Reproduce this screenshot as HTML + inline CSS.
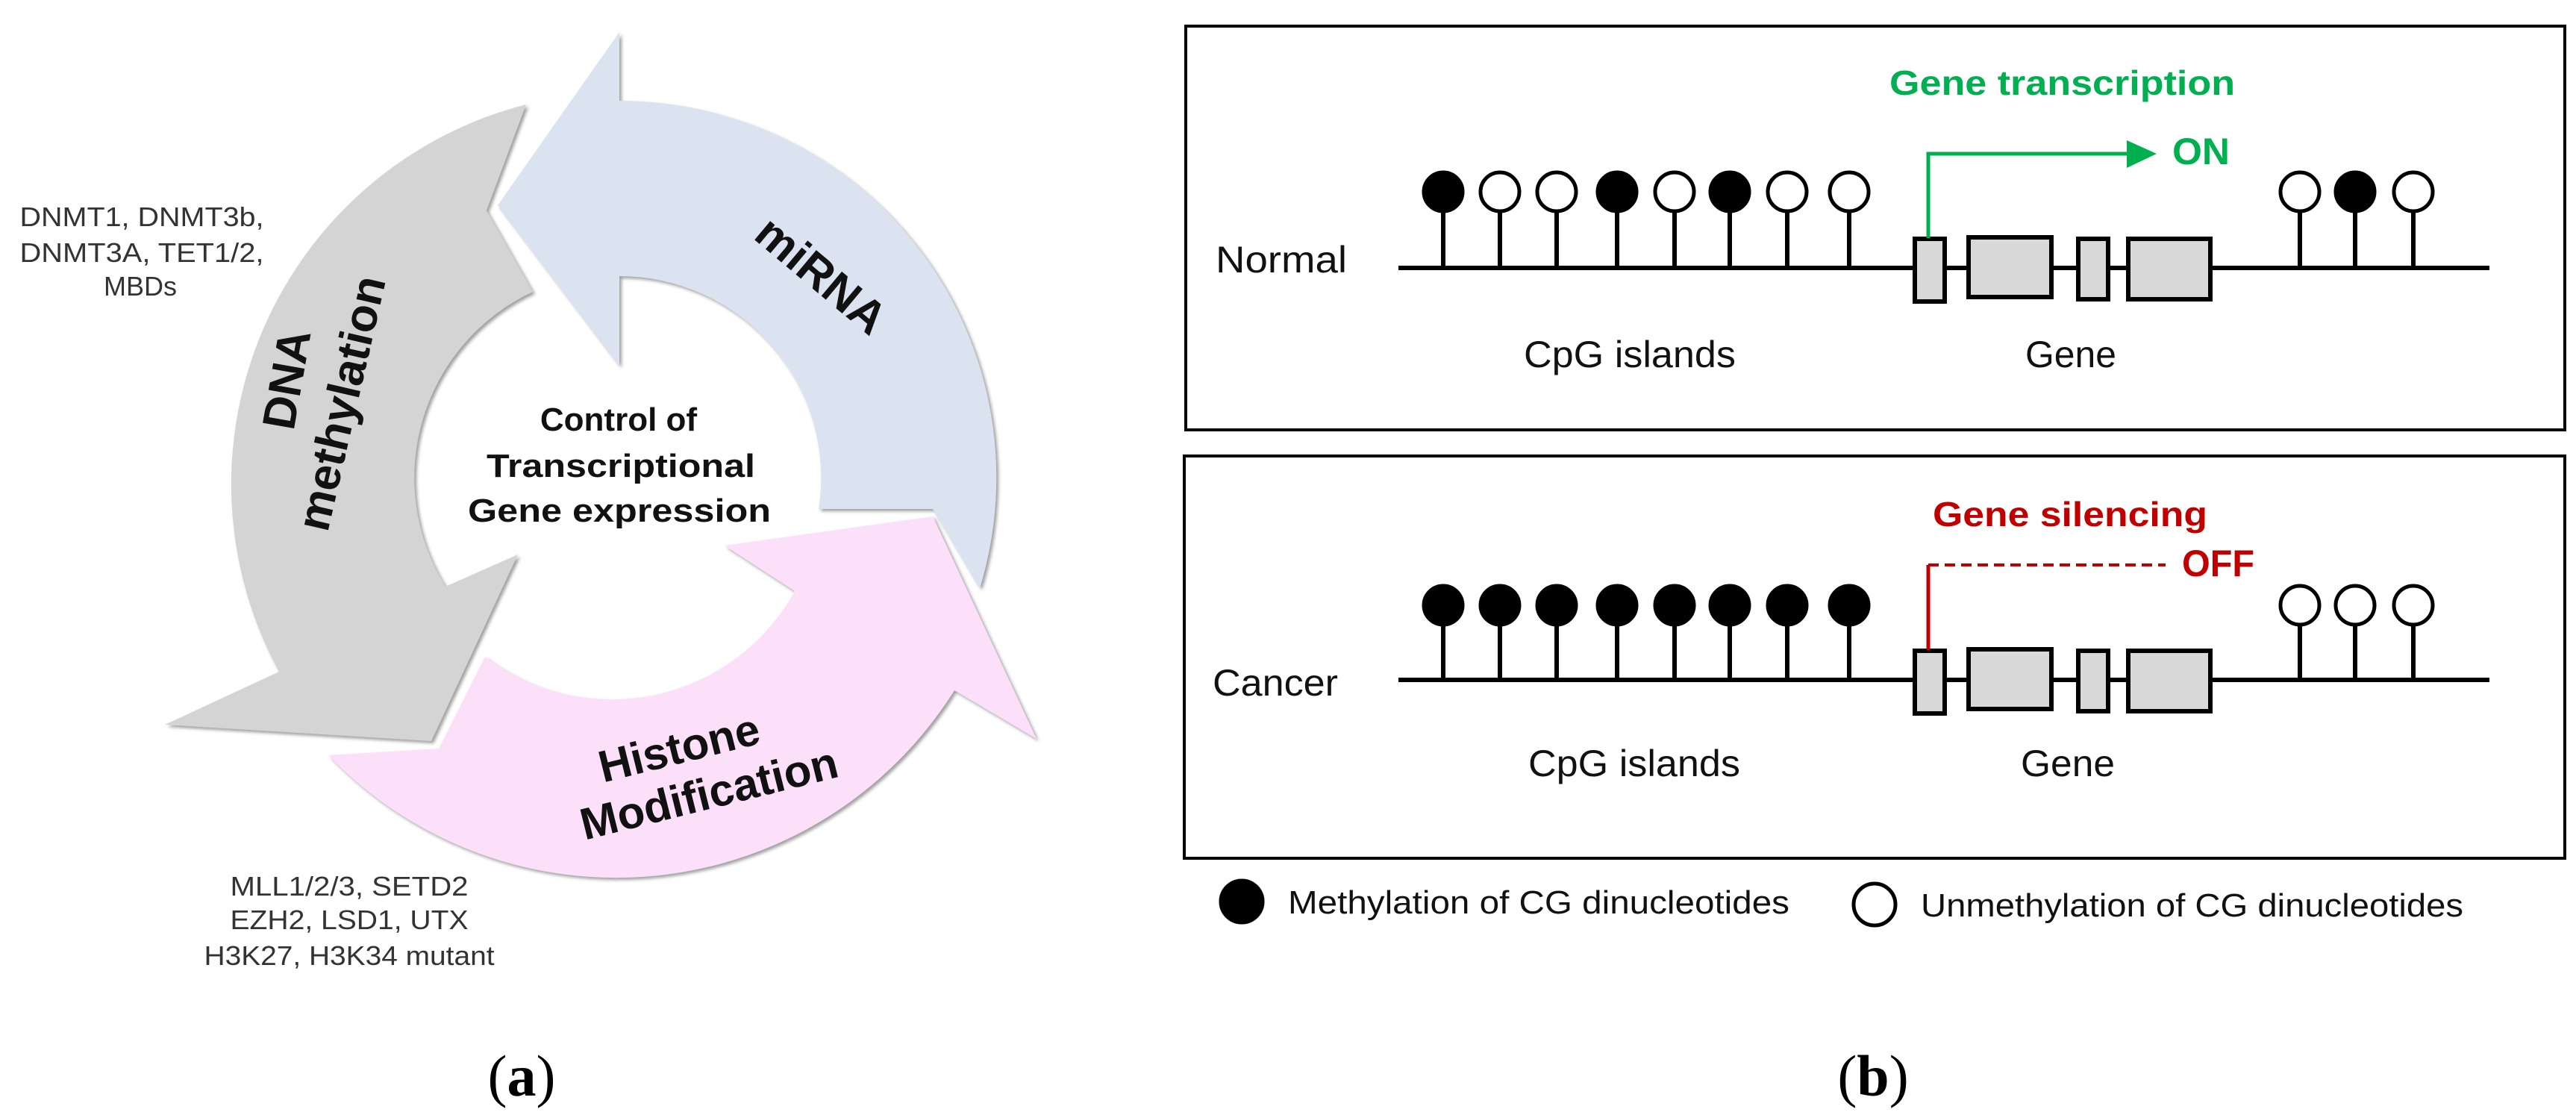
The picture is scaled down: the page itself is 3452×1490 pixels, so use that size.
<!DOCTYPE html>
<html><head><meta charset="utf-8"><style>
html,body{margin:0;padding:0;background:#fff;}
svg{display:block;}
</style></head><body>
<svg width="3452" height="1490" viewBox="0 0 3452 1490" xmlns="http://www.w3.org/2000/svg">
<defs>
<filter id="sh" x="-10%" y="-10%" width="120%" height="120%">
<feDropShadow dx="3" dy="3" stdDeviation="2" flood-color="#777" flood-opacity="0.7"/>
</filter>
</defs>
<!-- Panel a arrows -->
<path filter="url(#sh)" fill="#dbe3f1" d="M 1313 788 A 505 505 0 0 0 830 135 L 830 43 L 667 275 L 830 490 L 830 370 A 270 270 0 0 1 1097 682 L 1250 682 Z"/>
<path filter="url(#sh)" fill="#d4d4d4" d="M 705 140 A 525 525 0 0 0 374 900 L 221 971 L 578 993 L 694 743 L 597 786 A 275 275 0 0 1 714 391 L 652 282 Z"/>
<path filter="url(#sh)" fill="#fce0fa" d="M 440 1012 A 535 535 0 0 0 1279 925 L 1389 990 L 1250 692 L 971 731 L 1065 792 A 280 280 0 0 1 650 880 L 588 1003 Z"/>
<g font-family="Liberation Sans, Arial, sans-serif" font-weight="bold" fill="#111">
<text transform="translate(1087,385) rotate(40)" text-anchor="middle" font-size="62">miRNA</text>
<text transform="translate(405,512) rotate(-80)" text-anchor="middle" font-size="62">DNA</text>
<text transform="translate(478,545) rotate(-77)" text-anchor="middle" font-size="62">methylation</text>
<text transform="translate(915,1022) rotate(-14)" text-anchor="middle" font-size="60">Histone</text>
<text transform="translate(955,1083) rotate(-14)" text-anchor="middle" font-size="60">Modification</text>
<text x="829" y="577" text-anchor="middle" font-size="44">Control of</text>
<text x="832" y="639" text-anchor="middle" font-size="44" textLength="360" lengthAdjust="spacingAndGlyphs">Transcriptional</text>
<text x="830" y="699" text-anchor="middle" font-size="44" textLength="406" lengthAdjust="spacingAndGlyphs">Gene expression</text>
</g>
<g font-family="Liberation Sans, Arial, sans-serif" fill="#333" font-size="36" text-anchor="middle">
<text x="190" y="303" textLength="327" lengthAdjust="spacingAndGlyphs">DNMT1, DNMT3b,</text>
<text x="190" y="351" textLength="327" lengthAdjust="spacingAndGlyphs">DNMT3A, TET1/2,</text>
<text x="188" y="396">MBDs</text>
<text x="468" y="1200" textLength="319" lengthAdjust="spacingAndGlyphs">MLL1/2/3, SETD2</text>
<text x="468" y="1245" textLength="319" lengthAdjust="spacingAndGlyphs">EZH2, LSD1, UTX</text>
<text x="468" y="1293" textLength="389" lengthAdjust="spacingAndGlyphs">H3K27, H3K34 mutant</text>
</g>
<text x="699" y="1468" text-anchor="middle" font-family="Liberation Serif, serif" font-size="78" fill="#000">(<tspan font-weight="bold">a</tspan>)</text>
<text x="2510" y="1468" text-anchor="middle" font-family="Liberation Serif, serif" font-size="78" fill="#000">(<tspan font-weight="bold">b</tspan>)</text>

<!-- Panel b boxes -->
<rect x="1589" y="35" width="1848" height="541" fill="none" stroke="#000" stroke-width="4"/>
<rect x="1587" y="611" width="1850" height="539" fill="none" stroke="#000" stroke-width="4"/>

<g stroke="#000" stroke-width="6" fill="none">
<!-- normal -->
<line x1="1874" y1="359" x2="3336" y2="359"/>
<line x1="1934" y1="257" x2="1934" y2="359"/><line x1="2010" y1="257" x2="2010" y2="359"/>
<line x1="2086" y1="257" x2="2086" y2="359"/><line x1="2167" y1="257" x2="2167" y2="359"/>
<line x1="2244" y1="257" x2="2244" y2="359"/><line x1="2318" y1="257" x2="2318" y2="359"/>
<line x1="2395" y1="257" x2="2395" y2="359"/><line x1="2478" y1="257" x2="2478" y2="359"/>
<line x1="3082" y1="257" x2="3082" y2="359"/><line x1="3156" y1="257" x2="3156" y2="359"/>
<line x1="3234" y1="257" x2="3234" y2="359"/>
<!-- cancer -->
<line x1="1874" y1="911" x2="3336" y2="911"/>
<line x1="1934" y1="811" x2="1934" y2="911"/><line x1="2010" y1="811" x2="2010" y2="911"/>
<line x1="2086" y1="811" x2="2086" y2="911"/><line x1="2167" y1="811" x2="2167" y2="911"/>
<line x1="2244" y1="811" x2="2244" y2="911"/><line x1="2318" y1="811" x2="2318" y2="911"/>
<line x1="2395" y1="811" x2="2395" y2="911"/><line x1="2478" y1="811" x2="2478" y2="911"/>
<line x1="3082" y1="811" x2="3082" y2="911"/><line x1="3156" y1="811" x2="3156" y2="911"/>
<line x1="3234" y1="811" x2="3234" y2="911"/>
</g>
<g stroke="#000" stroke-width="5">
<circle cx="1934" cy="257" r="26" fill="#000"/><circle cx="2010" cy="257" r="26" fill="#fff"/>
<circle cx="2086" cy="257" r="26" fill="#fff"/><circle cx="2167" cy="257" r="26" fill="#000"/>
<circle cx="2244" cy="257" r="26" fill="#fff"/><circle cx="2318" cy="257" r="26" fill="#000"/>
<circle cx="2395" cy="257" r="26" fill="#fff"/><circle cx="2478" cy="257" r="26" fill="#fff"/>
<circle cx="3082" cy="257" r="26" fill="#fff"/><circle cx="3156" cy="257" r="26" fill="#000"/>
<circle cx="3234" cy="257" r="26" fill="#fff"/>
<circle cx="1934" cy="811" r="26" fill="#000"/><circle cx="2010" cy="811" r="26" fill="#000"/>
<circle cx="2086" cy="811" r="26" fill="#000"/><circle cx="2167" cy="811" r="26" fill="#000"/>
<circle cx="2244" cy="811" r="26" fill="#000"/><circle cx="2318" cy="811" r="26" fill="#000"/>
<circle cx="2395" cy="811" r="26" fill="#000"/><circle cx="2478" cy="811" r="26" fill="#000"/>
<circle cx="3082" cy="811" r="26" fill="#fff"/><circle cx="3156" cy="811" r="26" fill="#fff"/>
<circle cx="3234" cy="811" r="26" fill="#fff"/>
<circle cx="1664" cy="1208" r="28" fill="#000"/>
<circle cx="2512" cy="1212" r="28" fill="#fff"/>
</g>
<g stroke="#000" stroke-width="6" fill="#d8d8d8">
<rect x="2566" y="320" width="40" height="84"/><rect x="2638" y="318" width="111" height="80"/>
<rect x="2785" y="320" width="40" height="81"/><rect x="2852" y="320" width="110" height="81"/>
<rect x="2566" y="872" width="40" height="84"/><rect x="2638" y="870" width="111" height="80"/>
<rect x="2785" y="872" width="40" height="81"/><rect x="2852" y="872" width="110" height="81"/>
</g>
<!-- green arrow -->
<polyline points="2584,319 2584,206 2855,206" fill="none" stroke="#00b050" stroke-width="5"/>
<polygon points="2850,188 2890,206 2850,225" fill="#00b050"/>
<!-- red -->
<line x1="2584" y1="871" x2="2584" y2="757" stroke="#c00000" stroke-width="5"/>
<line x1="2584" y1="757" x2="2902" y2="757" stroke="#c00000" stroke-width="4" stroke-dasharray="14,8"/>

<g font-family="Liberation Sans, Arial, sans-serif" font-size="50">
<text x="1629" y="365" textLength="176" lengthAdjust="spacingAndGlyphs" fill="#111">Normal</text>
<text x="1625" y="932" textLength="168" lengthAdjust="spacingAndGlyphs" fill="#111">Cancer</text>
<text x="2042" y="492" textLength="284" lengthAdjust="spacingAndGlyphs" fill="#111">CpG islands</text>
<text x="2048" y="1040" textLength="284" lengthAdjust="spacingAndGlyphs" fill="#111">CpG islands</text>
<text x="2714" y="492" textLength="122" lengthAdjust="spacingAndGlyphs" fill="#111">Gene</text>
<text x="2708" y="1040" textLength="126" lengthAdjust="spacingAndGlyphs" fill="#111">Gene</text>
<text x="2532" y="127" font-weight="bold" font-size="46" textLength="463" lengthAdjust="spacingAndGlyphs" fill="#00b050">Gene transcription</text>
<text x="2911" y="220" font-weight="bold" textLength="77" lengthAdjust="spacingAndGlyphs" fill="#00b050">ON</text>
<text x="2590" y="705" font-weight="bold" font-size="46" textLength="368" lengthAdjust="spacingAndGlyphs" fill="#c00000">Gene silencing</text>
<text x="2924" y="772" font-weight="bold" textLength="97" lengthAdjust="spacingAndGlyphs" fill="#c00000">OFF</text>
<text x="1726" y="1224" font-size="44" textLength="672" lengthAdjust="spacingAndGlyphs" fill="#111">Methylation of CG dinucleotides</text>
<text x="2574" y="1228" font-size="44" textLength="727" lengthAdjust="spacingAndGlyphs" fill="#111">Unmethylation of CG dinucleotides</text>
</g>
</svg>
</body></html>
